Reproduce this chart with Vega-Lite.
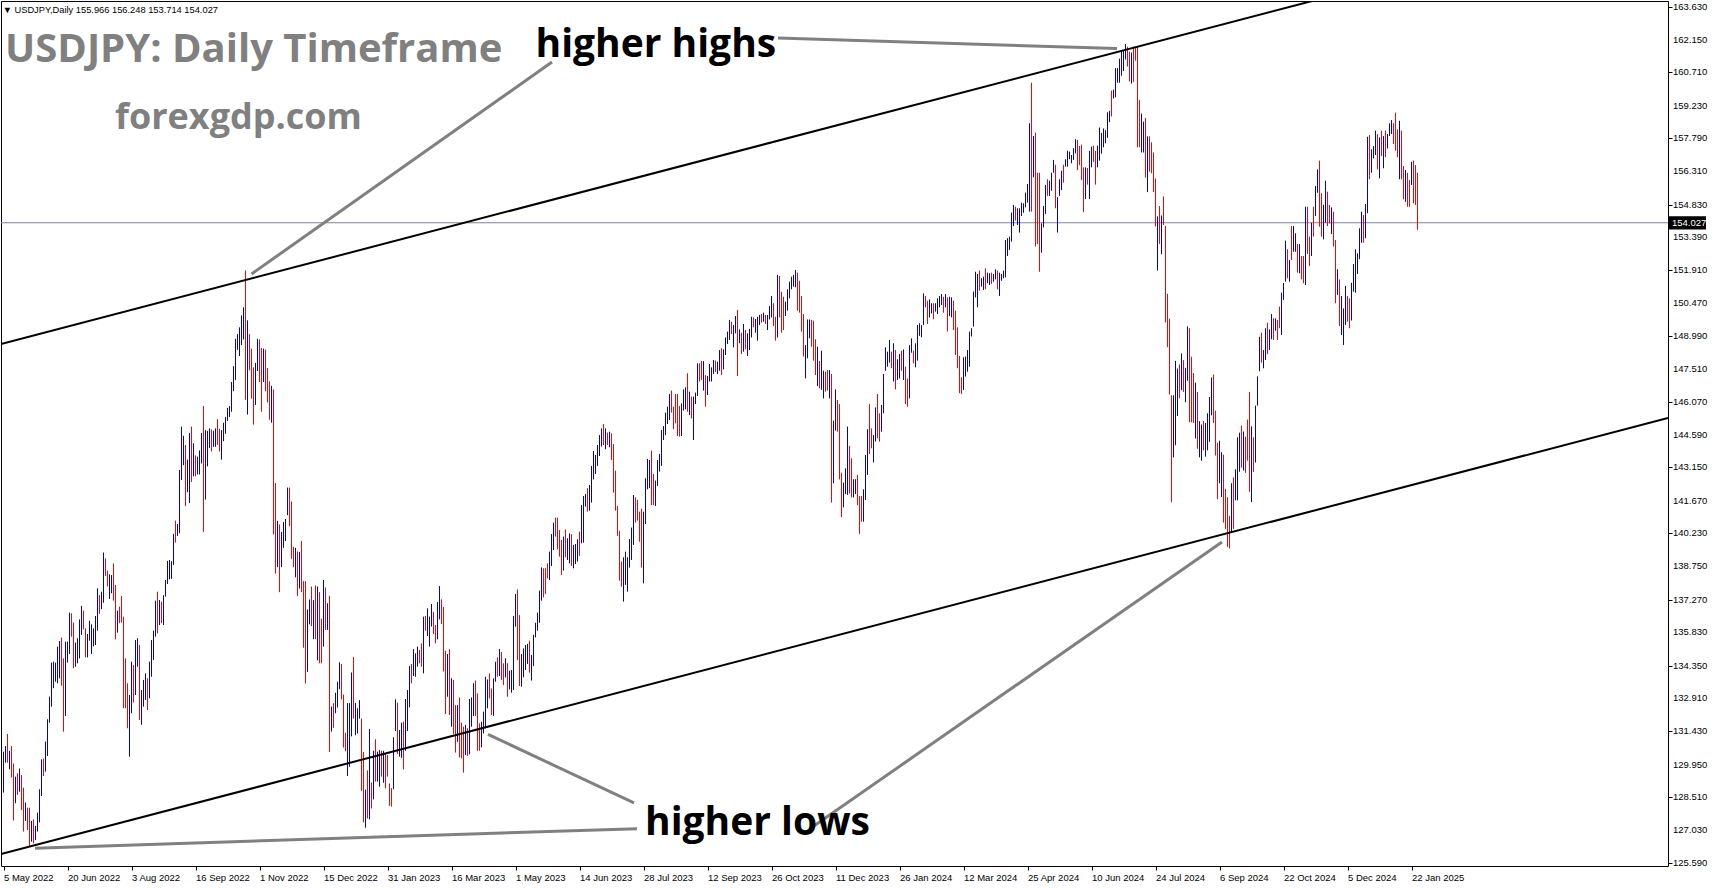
{
"$schema":"https://vega.github.io/schema/vega-lite/v6.json",
"width":1667,"height":865,"autosize":"none",
"padding":{"left":1,"top":1,"right":46,"bottom":22},
"background":"white",
"config":{"view":{"stroke":"black","strokeWidth":1},"axis":{"grid":false}},
"data":{"values":[
{"i":0,"h":130.52,"l":128.7,"dir":"up"},{"i":1,"h":130.77,"l":130.03,"dir":"up"},{"i":2,"h":131.31,"l":130.03,"dir":"dn"},{"i":3,"h":130.56,"l":129.74,"dir":"up"},{"i":4,"h":130.77,"l":129.37,"dir":"dn"},{"i":5,"h":130.0,"l":127.46,"dir":"dn"},{"i":6,"h":129.41,"l":128.23,"dir":"up"},{"i":7,"h":129.56,"l":128.6,"dir":"dn"},{"i":8,"h":129.77,"l":128.74,"dir":"up"},{"i":9,"h":129.48,"l":127.93,"dir":"dn"},
{"i":10,"h":128.92,"l":126.97,"dir":"dn"},{"i":11,"h":128.26,"l":127.44,"dir":"up"},{"i":12,"h":128.03,"l":127.04,"dir":"dn"},{"i":13,"h":128.03,"l":126.3,"dir":"dn"},{"i":14,"h":127.44,"l":126.52,"dir":"up"},{"i":15,"h":127.51,"l":126.45,"dir":"dn"},{"i":16,"h":127.22,"l":126.6,"dir":"up"},{"i":17,"h":127.81,"l":126.97,"dir":"up"},{"i":18,"h":128.85,"l":127.38,"dir":"up"},{"i":19,"h":130.18,"l":128.55,"dir":"up"},
{"i":20,"h":130.21,"l":129.44,"dir":"dn"},{"i":21,"h":130.97,"l":129.63,"dir":"up"},{"i":22,"h":131.96,"l":130.33,"dir":"up"},{"i":23,"h":132.97,"l":131.81,"dir":"up"},{"i":24,"h":134.48,"l":132.52,"dir":"up"},{"i":25,"h":134.52,"l":133.34,"dir":"up"},{"i":26,"h":134.48,"l":133.63,"dir":"up"},{"i":27,"h":135.19,"l":133.56,"dir":"up"},{"i":28,"h":135.44,"l":133.78,"dir":"up"},{"i":29,"h":135.59,"l":133.45,"dir":"dn"},
{"i":30,"h":134.67,"l":131.41,"dir":"dn"},{"i":31,"h":135.41,"l":132.11,"dir":"up"},{"i":32,"h":135.41,"l":134.48,"dir":"up"},{"i":33,"h":136.7,"l":134.86,"dir":"up"},{"i":34,"h":136.67,"l":135.63,"dir":"dn"},{"i":35,"h":136.26,"l":134.23,"dir":"dn"},{"i":36,"h":135.37,"l":134.3,"dir":"up"},{"i":37,"h":135.56,"l":134.45,"dir":"up"},{"i":38,"h":136.4,"l":134.67,"dir":"up"},{"i":39,"h":137.0,"l":135.71,"dir":"up"},
{"i":40,"h":136.79,"l":135.96,"dir":"dn"},{"i":41,"h":136.0,"l":134.71,"dir":"dn"},{"i":42,"h":135.75,"l":134.71,"dir":"up"},{"i":43,"h":136.34,"l":135.45,"dir":"up"},{"i":44,"h":136.18,"l":134.86,"dir":"up"},{"i":45,"h":136.0,"l":135.2,"dir":"up"},{"i":46,"h":136.55,"l":135.26,"dir":"up"},{"i":47,"h":137.78,"l":135.9,"dir":"up"},{"i":48,"h":137.48,"l":136.64,"dir":"dn"},{"i":49,"h":137.63,"l":136.85,"dir":"up"},
{"i":50,"h":139.37,"l":137.14,"dir":"up"},{"i":51,"h":139.11,"l":138.33,"dir":"dn"},{"i":52,"h":138.57,"l":137.86,"dir":"dn"},{"i":53,"h":138.4,"l":137.31,"dir":"up"},{"i":54,"h":138.37,"l":137.56,"dir":"up"},{"i":55,"h":138.89,"l":137.23,"dir":"dn"},{"i":56,"h":137.93,"l":135.51,"dir":"dn"},{"i":57,"h":136.79,"l":135.81,"dir":"up"},{"i":58,"h":136.97,"l":136.23,"dir":"dn"},{"i":59,"h":137.44,"l":136.26,"dir":"dn"},
{"i":60,"h":136.52,"l":132.45,"dir":"dn"},{"i":61,"h":134.67,"l":132.45,"dir":"dn"},{"i":62,"h":133.56,"l":131.56,"dir":"dn"},{"i":63,"h":133.04,"l":130.3,"dir":"up"},{"i":64,"h":134.52,"l":132.23,"dir":"up"},{"i":65,"h":134.37,"l":132.7,"dir":"dn"},{"i":66,"h":135.48,"l":133.04,"dir":"up"},{"i":67,"h":135.56,"l":134.3,"dir":"up"},{"i":68,"h":135.26,"l":131.93,"dir":"dn"},{"i":69,"h":133.26,"l":131.71,"dir":"up"},
{"i":70,"h":133.71,"l":132.52,"dir":"up"},{"i":71,"h":134.0,"l":132.82,"dir":"up"},{"i":72,"h":133.78,"l":132.37,"dir":"dn"},{"i":73,"h":134.52,"l":132.89,"dir":"up"},{"i":74,"h":135.48,"l":133.85,"dir":"up"},{"i":75,"h":135.9,"l":134.6,"dir":"up"},{"i":76,"h":137.23,"l":135.63,"dir":"up"},{"i":77,"h":137.63,"l":135.78,"dir":"dn"},{"i":78,"h":137.26,"l":136.15,"dir":"up"},{"i":79,"h":137.19,"l":136.23,"dir":"dn"},
{"i":80,"h":137.48,"l":136.15,"dir":"up"},{"i":81,"h":138.15,"l":137.41,"dir":"up"},{"i":82,"h":139.0,"l":137.97,"dir":"up"},{"i":83,"h":139.04,"l":138.18,"dir":"up"},{"i":84,"h":138.98,"l":138.2,"dir":"up"},{"i":85,"h":140.2,"l":138.82,"dir":"up"},{"i":86,"h":140.79,"l":139.81,"dir":"dn"},{"i":87,"h":140.64,"l":140.11,"dir":"up"},{"i":88,"h":143.04,"l":140.23,"dir":"up"},{"i":89,"h":144.97,"l":142.59,"dir":"up"},
{"i":90,"h":144.56,"l":143.25,"dir":"up"},{"i":91,"h":144.15,"l":141.44,"dir":"dn"},{"i":92,"h":143.5,"l":142.05,"dir":"up"},{"i":93,"h":144.68,"l":141.57,"dir":"up"},{"i":94,"h":144.97,"l":142.51,"dir":"dn"},{"i":95,"h":144.23,"l":142.76,"dir":"up"},{"i":96,"h":143.69,"l":142.76,"dir":"dn"},{"i":97,"h":143.63,"l":142.84,"dir":"up"},{"i":98,"h":143.91,"l":142.84,"dir":"up"},{"i":99,"h":144.68,"l":143.33,"dir":"up"},
{"i":100,"h":145.88,"l":140.29,"dir":"dn"},{"i":101,"h":144.81,"l":141.72,"dir":"up"},{"i":102,"h":144.78,"l":143.2,"dir":"up"},{"i":103,"h":144.89,"l":144.02,"dir":"up"},{"i":104,"h":144.84,"l":143.86,"dir":"dn"},{"i":105,"h":144.78,"l":144.07,"dir":"up"},{"i":106,"h":144.89,"l":144.07,"dir":"up"},{"i":107,"h":145.3,"l":144.15,"dir":"dn"},{"i":108,"h":144.87,"l":143.86,"dir":"dn"},{"i":109,"h":144.81,"l":143.5,"dir":"up"},
{"i":110,"h":145.14,"l":144.32,"dir":"up"},{"i":111,"h":145.39,"l":144.65,"dir":"up"},{"i":112,"h":145.8,"l":145.22,"dir":"up"},{"i":113,"h":145.88,"l":145.39,"dir":"up"},{"i":114,"h":146.95,"l":145.63,"dir":"up"},{"i":115,"h":147.65,"l":146.54,"dir":"up"},{"i":116,"h":148.87,"l":147.03,"dir":"up"},{"i":117,"h":149.08,"l":148.38,"dir":"up"},{"i":118,"h":149.38,"l":148.1,"dir":"up"},{"i":119,"h":149.91,"l":148.59,"dir":"up"},
{"i":120,"h":150.27,"l":148.84,"dir":"up"},{"i":121,"h":151.91,"l":146.16,"dir":"dn"},{"i":122,"h":149.69,"l":145.5,"dir":"up"},{"i":123,"h":149.08,"l":147.47,"dir":"dn"},{"i":124,"h":148.43,"l":146.21,"dir":"dn"},{"i":125,"h":147.6,"l":145.06,"dir":"dn"},{"i":126,"h":147.8,"l":145.93,"dir":"up"},{"i":127,"h":148.87,"l":147.44,"dir":"up"},{"i":128,"h":148.84,"l":146.95,"dir":"dn"},{"i":129,"h":148.46,"l":145.63,"dir":"dn"},
{"i":130,"h":148.43,"l":146.95,"dir":"up"},{"i":131,"h":148.39,"l":146.54,"dir":"dn"},{"i":132,"h":147.57,"l":146.04,"dir":"dn"},{"i":133,"h":146.98,"l":145.27,"dir":"dn"},{"i":134,"h":146.78,"l":145.14,"dir":"up"},{"i":135,"h":146.62,"l":140.17,"dir":"dn"},{"i":136,"h":142.46,"l":138.43,"dir":"dn"},{"i":137,"h":140.78,"l":138.72,"dir":"up"},{"i":138,"h":140.62,"l":137.61,"dir":"dn"},{"i":139,"h":140.29,"l":138.72,"dir":"up"},
{"i":140,"h":140.73,"l":139.58,"dir":"up"},{"i":141,"h":140.86,"l":139.88,"dir":"up"},{"i":142,"h":142.26,"l":141.03,"dir":"up"},{"i":143,"h":142.26,"l":140.54,"dir":"dn"},{"i":144,"h":141.64,"l":139.09,"dir":"dn"},{"i":145,"h":139.63,"l":138.72,"dir":"dn"},{"i":146,"h":139.58,"l":138.27,"dir":"up"},{"i":147,"h":139.42,"l":137.44,"dir":"dn"},{"i":148,"h":139.39,"l":137.77,"dir":"up"},{"i":149,"h":139.88,"l":137.61,"dir":"dn"},
{"i":150,"h":138.1,"l":135.14,"dir":"dn"},{"i":151,"h":138.1,"l":133.55,"dir":"dn"},{"i":152,"h":136.84,"l":134.07,"dir":"up"},{"i":153,"h":137.28,"l":136.18,"dir":"up"},{"i":154,"h":137.86,"l":136.1,"dir":"dn"},{"i":155,"h":137.25,"l":135.52,"dir":"up"},{"i":156,"h":137.91,"l":135.52,"dir":"dn"},{"i":157,"h":137.86,"l":134.58,"dir":"up"},{"i":158,"h":137.61,"l":134.45,"dir":"dn"},{"i":159,"h":136.43,"l":134.45,"dir":"dn"},
{"i":160,"h":138.15,"l":135.19,"dir":"up"},{"i":161,"h":137.82,"l":135.93,"dir":"dn"},{"i":162,"h":137.12,"l":135.93,"dir":"up"},{"i":163,"h":137.45,"l":130.51,"dir":"dn"},{"i":164,"h":132.53,"l":131.41,"dir":"up"},{"i":165,"h":132.68,"l":131.58,"dir":"dn"},{"i":166,"h":133.14,"l":132.23,"dir":"up"},{"i":167,"h":133.63,"l":132.48,"dir":"up"},{"i":168,"h":134.49,"l":133.3,"dir":"up"},{"i":169,"h":134.42,"l":132.84,"dir":"dn"},
{"i":170,"h":133.06,"l":130.7,"dir":"dn"},{"i":171,"h":131.36,"l":130.54,"dir":"dn"},{"i":172,"h":132.68,"l":129.44,"dir":"up"},{"i":173,"h":132.68,"l":129.85,"dir":"up"},{"i":174,"h":134.04,"l":131.2,"dir":"up"},{"i":175,"h":134.73,"l":131.99,"dir":"dn"},{"i":176,"h":132.68,"l":131.25,"dir":"up"},{"i":177,"h":132.45,"l":131.33,"dir":"up"},{"i":178,"h":132.81,"l":131.99,"dir":"up"},{"i":179,"h":131.99,"l":128.78,"dir":"dn"},
{"i":180,"h":130.51,"l":127.38,"dir":"dn"},{"i":181,"h":128.83,"l":127.14,"dir":"up"},{"i":182,"h":129.69,"l":127.55,"dir":"dn"},{"i":183,"h":131.53,"l":127.51,"dir":"up"},{"i":184,"h":129.15,"l":128.0,"dir":"dn"},{"i":185,"h":130.56,"l":128.4,"dir":"up"},{"i":186,"h":131.07,"l":129.19,"dir":"dn"},{"i":187,"h":130.52,"l":129.19,"dir":"up"},{"i":188,"h":130.59,"l":128.96,"dir":"up"},{"i":189,"h":130.56,"l":129.41,"dir":"dn"},
{"i":190,"h":130.56,"l":129.14,"dir":"up"},{"i":191,"h":130.42,"l":128.89,"dir":"dn"},{"i":192,"h":130.37,"l":129.41,"dir":"dn"},{"i":193,"h":129.11,"l":128.11,"dir":"dn"},{"i":194,"h":128.9,"l":128.08,"dir":"dn"},{"i":195,"h":131.16,"l":128.85,"dir":"up"},{"i":196,"h":132.85,"l":131.44,"dir":"up"},{"i":197,"h":132.7,"l":130.42,"dir":"dn"},{"i":198,"h":131.48,"l":130.3,"dir":"up"},{"i":199,"h":131.81,"l":130.25,"dir":"up"},
{"i":200,"h":131.85,"l":129.73,"dir":"dn"},{"i":201,"h":132.86,"l":130.56,"dir":"up"},{"i":202,"h":133.26,"l":131.44,"dir":"up"},{"i":203,"h":134.33,"l":132.49,"dir":"up"},{"i":204,"h":134.42,"l":133.56,"dir":"dn"},{"i":205,"h":135.08,"l":133.88,"dir":"up"},{"i":206,"h":134.89,"l":133.85,"dir":"up"},{"i":207,"h":135.19,"l":134.3,"dir":"up"},{"i":208,"h":135.04,"l":134.45,"dir":"dn"},{"i":209,"h":135.33,"l":134.3,"dir":"dn"},
{"i":210,"h":136.52,"l":134.0,"dir":"up"},{"i":211,"h":136.55,"l":135.9,"dir":"dn"},{"i":212,"h":136.89,"l":135.66,"dir":"up"},{"i":213,"h":136.52,"l":135.19,"dir":"up"},{"i":214,"h":137.08,"l":136.08,"dir":"up"},{"i":215,"h":136.74,"l":135.75,"dir":"dn"},{"i":216,"h":136.15,"l":135.33,"dir":"dn"},{"i":217,"h":137.17,"l":135.51,"dir":"up"},{"i":218,"h":137.88,"l":136.4,"dir":"up"},{"i":219,"h":137.29,"l":136.19,"dir":"dn"},
{"i":220,"h":136.95,"l":134.08,"dir":"dn"},{"i":221,"h":135.01,"l":132.19,"dir":"dn"},{"i":222,"h":134.86,"l":132.96,"dir":"up"},{"i":223,"h":135.08,"l":132.15,"dir":"dn"},{"i":224,"h":133.78,"l":131.63,"dir":"up"},{"i":225,"h":133.71,"l":131.31,"dir":"dn"},{"i":226,"h":132.59,"l":130.48,"dir":"dn"},{"i":227,"h":132.59,"l":130.96,"dir":"up"},{"i":228,"h":132.93,"l":130.27,"dir":"dn"},{"i":229,"h":131.81,"l":130.22,"dir":"dn"},
{"i":230,"h":131.63,"l":129.59,"dir":"dn"},{"i":231,"h":131.71,"l":130.37,"dir":"up"},{"i":232,"h":131.56,"l":130.33,"dir":"dn"},{"i":233,"h":132.86,"l":130.4,"dir":"up"},{"i":234,"h":132.93,"l":131.63,"dir":"up"},{"i":235,"h":133.56,"l":132.11,"dir":"up"},{"i":236,"h":133.68,"l":132.11,"dir":"dn"},{"i":237,"h":133.11,"l":130.56,"dir":"dn"},{"i":238,"h":131.78,"l":130.56,"dir":"dn"},{"i":239,"h":131.85,"l":130.71,"dir":"up"},
{"i":240,"h":132.3,"l":131.33,"dir":"up"},{"i":241,"h":133.85,"l":131.56,"dir":"up"},{"i":242,"h":133.73,"l":132.45,"dir":"up"},{"i":243,"h":134.0,"l":132.89,"dir":"dn"},{"i":244,"h":133.33,"l":132.15,"dir":"dn"},{"i":245,"h":133.78,"l":132.11,"dir":"up"},{"i":246,"h":134.52,"l":133.63,"dir":"up"},{"i":247,"h":134.71,"l":133.85,"dir":"dn"},{"i":248,"h":135.08,"l":133.88,"dir":"up"},{"i":249,"h":134.95,"l":133.71,"dir":"dn"},
{"i":250,"h":134.45,"l":133.48,"dir":"dn"},{"i":251,"h":134.67,"l":133.82,"dir":"up"},{"i":252,"h":134.45,"l":132.96,"dir":"dn"},{"i":253,"h":134.12,"l":133.29,"dir":"up"},{"i":254,"h":134.15,"l":133.14,"dir":"up"},{"i":255,"h":136.55,"l":133.26,"dir":"up"},{"i":256,"h":137.53,"l":136.08,"dir":"up"},{"i":257,"h":137.73,"l":134.59,"dir":"dn"},{"i":258,"h":136.59,"l":133.44,"dir":"dn"},{"i":259,"h":134.86,"l":133.41,"dir":"up"},
{"i":260,"h":135.11,"l":133.82,"dir":"up"},{"i":261,"h":135.26,"l":134.15,"dir":"up"},{"i":262,"h":135.31,"l":134.42,"dir":"up"},{"i":263,"h":135.45,"l":134.03,"dir":"dn"},{"i":264,"h":134.82,"l":133.68,"dir":"up"},{"i":265,"h":135.71,"l":134.33,"dir":"up"},{"i":266,"h":136.25,"l":135.6,"dir":"up"},{"i":267,"h":136.7,"l":135.9,"dir":"up"},{"i":268,"h":137.68,"l":136.25,"dir":"up"},{"i":269,"h":138.71,"l":137.23,"dir":"up"},
{"i":270,"h":138.67,"l":137.38,"dir":"dn"},{"i":271,"h":138.67,"l":137.53,"dir":"dn"},{"i":272,"h":138.89,"l":138.22,"dir":"dn"},{"i":273,"h":139.41,"l":138.15,"dir":"up"},{"i":274,"h":140.19,"l":138.77,"dir":"up"},{"i":275,"h":140.7,"l":139.48,"dir":"up"},{"i":276,"h":140.92,"l":140.08,"dir":"dn"},{"i":277,"h":140.92,"l":139.51,"dir":"dn"},{"i":278,"h":140.37,"l":139.19,"dir":"dn"},{"i":279,"h":139.93,"l":138.37,"dir":"dn"},
{"i":280,"h":140.08,"l":138.57,"dir":"up"},{"i":281,"h":140.4,"l":139.16,"dir":"dn"},{"i":282,"h":140.0,"l":139.04,"dir":"up"},{"i":283,"h":140.22,"l":138.89,"dir":"up"},{"i":284,"h":140.19,"l":138.77,"dir":"dn"},{"i":285,"h":139.71,"l":138.67,"dir":"up"},{"i":286,"h":139.75,"l":138.86,"dir":"up"},{"i":287,"h":139.96,"l":138.97,"dir":"up"},{"i":288,"h":140.3,"l":139.22,"dir":"dn"},{"i":289,"h":141.48,"l":139.78,"dir":"up"},
{"i":290,"h":141.88,"l":139.81,"dir":"up"},{"i":291,"h":141.97,"l":141.41,"dir":"up"},{"i":292,"h":142.23,"l":141.19,"dir":"dn"},{"i":293,"h":142.37,"l":141.23,"dir":"up"},{"i":294,"h":143.22,"l":141.59,"dir":"up"},{"i":295,"h":143.88,"l":142.62,"dir":"up"},{"i":296,"h":143.71,"l":142.86,"dir":"up"},{"i":297,"h":144.15,"l":143.22,"dir":"up"},{"i":298,"h":144.59,"l":143.66,"dir":"up"},{"i":299,"h":144.89,"l":144.08,"dir":"up"},
{"i":300,"h":145.08,"l":144.15,"dir":"dn"},{"i":301,"h":144.89,"l":143.96,"dir":"up"},{"i":302,"h":144.7,"l":144.15,"dir":"dn"},{"i":303,"h":144.74,"l":144.05,"dir":"up"},{"i":304,"h":144.67,"l":143.48,"dir":"dn"},{"i":305,"h":144.19,"l":142.03,"dir":"dn"},{"i":306,"h":143.01,"l":141.23,"dir":"dn"},{"i":307,"h":141.44,"l":140.11,"dir":"dn"},{"i":308,"h":140.34,"l":138.12,"dir":"dn"},{"i":309,"h":138.97,"l":137.85,"dir":"dn"},
{"i":310,"h":139.16,"l":137.19,"dir":"up"},{"i":311,"h":139.41,"l":137.93,"dir":"up"},{"i":312,"h":139.16,"l":137.63,"dir":"up"},{"i":313,"h":139.97,"l":138.7,"dir":"up"},{"i":314,"h":140.48,"l":139.04,"dir":"up"},{"i":315,"h":141.93,"l":139.71,"dir":"up"},{"i":316,"h":141.82,"l":140.7,"dir":"dn"},{"i":317,"h":141.71,"l":140.79,"dir":"dn"},{"i":318,"h":141.19,"l":139.85,"dir":"dn"},{"i":319,"h":141.32,"l":138.7,"dir":"dn"},
{"i":320,"h":141.19,"l":138.0,"dir":"up"},{"i":321,"h":142.67,"l":140.64,"dir":"up"},{"i":322,"h":143.53,"l":142.18,"dir":"up"},{"i":323,"h":143.48,"l":142.23,"dir":"up"},{"i":324,"h":143.9,"l":141.48,"dir":"dn"},{"i":325,"h":142.86,"l":141.48,"dir":"dn"},{"i":326,"h":142.57,"l":141.44,"dir":"up"},{"i":327,"h":143.48,"l":142.33,"dir":"up"},{"i":328,"h":143.75,"l":142.97,"dir":"up"},{"i":329,"h":144.82,"l":143.22,"dir":"up"},
{"i":330,"h":144.99,"l":144.37,"dir":"up"},{"i":331,"h":145.59,"l":144.59,"dir":"up"},{"i":332,"h":145.85,"l":145.08,"dir":"up"},{"i":333,"h":146.42,"l":145.26,"dir":"up"},{"i":334,"h":146.57,"l":145.59,"dir":"dn"},{"i":335,"h":145.85,"l":144.85,"dir":"dn"},{"i":336,"h":146.42,"l":145.11,"dir":"dn"},{"i":337,"h":146.42,"l":144.55,"dir":"dn"},{"i":338,"h":145.88,"l":144.52,"dir":"dn"},{"i":339,"h":146.0,"l":144.55,"dir":"up"},
{"i":340,"h":146.62,"l":145.68,"dir":"up"},{"i":341,"h":146.71,"l":145.74,"dir":"up"},{"i":342,"h":147.34,"l":145.63,"dir":"dn"},{"i":343,"h":146.52,"l":145.48,"dir":"up"},{"i":344,"h":146.3,"l":145.33,"dir":"dn"},{"i":345,"h":146.3,"l":144.37,"dir":"up"},{"i":346,"h":146.48,"l":145.97,"dir":"up"},{"i":347,"h":147.78,"l":146.33,"dir":"up"},{"i":348,"h":147.78,"l":146.97,"dir":"dn"},{"i":349,"h":147.88,"l":147.04,"dir":"dn"},
{"i":350,"h":147.88,"l":146.57,"dir":"up"},{"i":351,"h":147.26,"l":145.85,"dir":"dn"},{"i":352,"h":147.22,"l":146.37,"dir":"up"},{"i":353,"h":147.75,"l":146.97,"dir":"up"},{"i":354,"h":147.6,"l":146.97,"dir":"up"},{"i":355,"h":147.93,"l":147.31,"dir":"up"},{"i":356,"h":147.9,"l":147.4,"dir":"dn"},{"i":357,"h":147.85,"l":147.3,"dir":"up"},{"i":358,"h":148.37,"l":147.45,"dir":"up"},{"i":359,"h":148.45,"l":147.26,"dir":"dn"},
{"i":360,"h":148.4,"l":147.51,"dir":"up"},{"i":361,"h":148.93,"l":148.15,"dir":"up"},{"i":362,"h":149.19,"l":148.64,"dir":"up"},{"i":363,"h":149.71,"l":148.82,"dir":"up"},{"i":364,"h":149.63,"l":149.08,"dir":"dn"},{"i":365,"h":149.48,"l":148.49,"dir":"up"},{"i":366,"h":149.88,"l":149.11,"dir":"up"},{"i":367,"h":150.15,"l":147.22,"dir":"dn"},{"i":368,"h":149.29,"l":148.67,"dir":"up"},{"i":369,"h":149.14,"l":148.19,"dir":"dn"},
{"i":370,"h":149.53,"l":148.3,"dir":"up"},{"i":371,"h":149.26,"l":148.4,"dir":"dn"},{"i":372,"h":149.11,"l":148.11,"dir":"up"},{"i":373,"h":149.31,"l":148.37,"dir":"up"},{"i":374,"h":149.85,"l":148.93,"dir":"up"},{"i":375,"h":149.82,"l":149.38,"dir":"dn"},{"i":376,"h":149.75,"l":149.14,"dir":"up"},{"i":377,"h":149.85,"l":148.79,"dir":"up"},{"i":378,"h":149.93,"l":149.48,"dir":"up"},{"i":379,"h":149.97,"l":149.59,"dir":"dn"},
{"i":380,"h":150.03,"l":149.63,"dir":"up"},{"i":381,"h":149.93,"l":149.53,"dir":"dn"},{"i":382,"h":149.93,"l":149.26,"dir":"up"},{"i":383,"h":150.33,"l":149.73,"dir":"up"},{"i":384,"h":150.77,"l":149.82,"dir":"up"},{"i":385,"h":150.45,"l":149.44,"dir":"dn"},{"i":386,"h":149.85,"l":148.79,"dir":"dn"},{"i":387,"h":151.71,"l":148.93,"dir":"up"},{"i":388,"h":151.66,"l":149.82,"dir":"dn"},{"i":389,"h":150.96,"l":149.14,"dir":"dn"},
{"i":390,"h":150.74,"l":149.26,"dir":"dn"},{"i":391,"h":150.52,"l":149.88,"dir":"up"},{"i":392,"h":151.07,"l":150.12,"dir":"up"},{"i":393,"h":151.41,"l":150.67,"dir":"up"},{"i":394,"h":151.63,"l":151.07,"dir":"up"},{"i":395,"h":151.71,"l":151.19,"dir":"up"},{"i":396,"h":151.93,"l":151.16,"dir":"up"},{"i":397,"h":151.81,"l":150.12,"dir":"dn"},{"i":398,"h":151.45,"l":150.03,"dir":"dn"},{"i":399,"h":150.77,"l":149.19,"dir":"dn"},
{"i":400,"h":149.97,"l":148.08,"dir":"dn"},{"i":401,"h":148.59,"l":147.11,"dir":"up"},{"i":402,"h":149.73,"l":148.0,"dir":"up"},{"i":403,"h":149.73,"l":148.89,"dir":"up"},{"i":404,"h":149.71,"l":148.52,"dir":"dn"},{"i":405,"h":149.68,"l":147.9,"dir":"dn"},{"i":406,"h":148.85,"l":147.26,"dir":"dn"},{"i":407,"h":148.52,"l":146.77,"dir":"up"},{"i":408,"h":147.88,"l":146.67,"dir":"dn"},{"i":409,"h":148.34,"l":146.6,"dir":"up"},
{"i":410,"h":147.45,"l":146.22,"dir":"up"},{"i":411,"h":147.41,"l":146.52,"dir":"dn"},{"i":412,"h":147.48,"l":146.57,"dir":"dn"},{"i":413,"h":147.48,"l":146.22,"dir":"up"},{"i":414,"h":147.31,"l":141.59,"dir":"dn"},{"i":415,"h":145.23,"l":142.45,"dir":"up"},{"i":416,"h":146.62,"l":144.79,"dir":"up"},{"i":417,"h":146.15,"l":144.74,"dir":"dn"},{"i":418,"h":145.97,"l":142.62,"dir":"dn"},{"i":419,"h":142.92,"l":140.94,"dir":"dn"},
{"i":420,"h":142.48,"l":141.38,"dir":"up"},{"i":421,"h":143.11,"l":141.97,"dir":"up"},{"i":422,"h":144.97,"l":141.93,"dir":"up"},{"i":423,"h":144.11,"l":142.0,"dir":"dn"},{"i":424,"h":143.56,"l":141.82,"dir":"dn"},{"i":425,"h":142.63,"l":141.82,"dir":"up"},{"i":426,"h":142.63,"l":141.97,"dir":"up"},{"i":427,"h":142.82,"l":141.48,"dir":"dn"},{"i":428,"h":141.88,"l":140.2,"dir":"dn"},{"i":429,"h":141.88,"l":140.74,"dir":"dn"},
{"i":430,"h":142.18,"l":140.74,"dir":"up"},{"i":431,"h":143.7,"l":141.71,"dir":"up"},{"i":432,"h":144.85,"l":142.82,"dir":"up"},{"i":433,"h":145.97,"l":143.75,"dir":"dn"},{"i":434,"h":144.89,"l":144.0,"dir":"dn"},{"i":435,"h":144.59,"l":143.37,"dir":"up"},{"i":436,"h":145.82,"l":144.3,"dir":"up"},{"i":437,"h":146.42,"l":144.45,"dir":"dn"},{"i":438,"h":145.56,"l":144.3,"dir":"dn"},{"i":439,"h":145.93,"l":144.74,"dir":"up"},
{"i":440,"h":147.31,"l":145.56,"dir":"up"},{"i":441,"h":148.49,"l":147.45,"dir":"up"},{"i":442,"h":148.3,"l":147.63,"dir":"up"},{"i":443,"h":148.82,"l":147.81,"dir":"up"},{"i":444,"h":148.3,"l":147.56,"dir":"dn"},{"i":445,"h":148.67,"l":146.97,"dir":"up"},{"i":446,"h":148.37,"l":146.62,"dir":"dn"},{"i":447,"h":147.96,"l":147.04,"dir":"up"},{"i":448,"h":148.19,"l":147.11,"dir":"up"},{"i":449,"h":148.34,"l":147.45,"dir":"dn"},
{"i":450,"h":148.4,"l":147.04,"dir":"up"},{"i":451,"h":147.63,"l":145.97,"dir":"dn"},{"i":452,"h":147.11,"l":145.85,"dir":"dn"},{"i":453,"h":148.59,"l":146.22,"dir":"up"},{"i":454,"h":148.89,"l":148.25,"dir":"up"},{"i":455,"h":148.34,"l":147.78,"dir":"dn"},{"i":456,"h":148.67,"l":147.6,"dir":"up"},{"i":457,"h":149.48,"l":147.9,"dir":"up"},{"i":458,"h":149.56,"l":149.0,"dir":"up"},{"i":459,"h":149.48,"l":148.94,"dir":"up"},
{"i":460,"h":150.89,"l":149.48,"dir":"up"},{"i":461,"h":150.77,"l":150.27,"dir":"dn"},{"i":462,"h":150.56,"l":149.53,"dir":"dn"},{"i":463,"h":150.62,"l":149.82,"dir":"up"},{"i":464,"h":150.45,"l":150.0,"dir":"up"},{"i":465,"h":150.45,"l":149.74,"dir":"dn"},{"i":466,"h":150.45,"l":150.08,"dir":"up"},{"i":467,"h":150.67,"l":149.97,"dir":"up"},{"i":468,"h":150.77,"l":150.27,"dir":"up"},{"i":469,"h":150.86,"l":150.37,"dir":"up"},
{"i":470,"h":150.74,"l":150.03,"dir":"dn"},{"i":471,"h":150.86,"l":150.27,"dir":"up"},{"i":472,"h":150.71,"l":149.19,"dir":"dn"},{"i":473,"h":150.74,"l":149.88,"dir":"up"},{"i":474,"h":150.71,"l":149.82,"dir":"up"},{"i":475,"h":150.56,"l":149.26,"dir":"dn"},{"i":476,"h":150.12,"l":148.15,"dir":"dn"},{"i":477,"h":149.38,"l":147.56,"dir":"dn"},{"i":478,"h":148.11,"l":146.45,"dir":"dn"},{"i":479,"h":147.16,"l":146.42,"dir":"dn"},
{"i":480,"h":148.05,"l":146.6,"dir":"up"},{"i":481,"h":148.08,"l":147.19,"dir":"up"},{"i":482,"h":148.37,"l":147.41,"dir":"up"},{"i":483,"h":149.19,"l":147.63,"dir":"up"},{"i":484,"h":149.34,"l":148.97,"dir":"up"},{"i":485,"h":150.97,"l":149.41,"dir":"up"},{"i":486,"h":151.85,"l":150.71,"dir":"up"},{"i":487,"h":151.75,"l":150.27,"dir":"up"},{"i":488,"h":151.9,"l":151.01,"dir":"dn"},{"i":489,"h":151.56,"l":151.19,"dir":"up"},
{"i":490,"h":151.63,"l":151.04,"dir":"up"},{"i":491,"h":152.0,"l":151.07,"dir":"dn"},{"i":492,"h":151.81,"l":151.34,"dir":"up"},{"i":493,"h":151.78,"l":151.26,"dir":"up"},{"i":494,"h":151.81,"l":151.31,"dir":"dn"},{"i":495,"h":151.75,"l":151.41,"dir":"up"},{"i":496,"h":151.96,"l":151.51,"dir":"up"},{"i":497,"h":151.9,"l":151.07,"dir":"dn"},{"i":498,"h":151.81,"l":150.77,"dir":"up"},{"i":499,"h":151.75,"l":151.45,"dir":"up"},
{"i":500,"h":151.9,"l":151.56,"dir":"up"},{"i":501,"h":153.26,"l":151.6,"dir":"up"},{"i":502,"h":153.34,"l":152.55,"dir":"up"},{"i":503,"h":153.41,"l":152.82,"dir":"up"},{"i":504,"h":154.48,"l":153.19,"dir":"up"},{"i":505,"h":154.82,"l":153.88,"dir":"up"},{"i":506,"h":154.74,"l":154.12,"dir":"dn"},{"i":507,"h":154.67,"l":153.93,"dir":"up"},{"i":508,"h":154.67,"l":153.59,"dir":"up"},{"i":509,"h":154.92,"l":154.33,"dir":"up"},
{"i":510,"h":154.89,"l":154.47,"dir":"up"},{"i":511,"h":155.37,"l":154.71,"dir":"up"},{"i":512,"h":155.75,"l":154.92,"dir":"up"},{"i":513,"h":158.45,"l":154.52,"dir":"up"},{"i":514,"h":160.25,"l":154.52,"dir":"dn"},{"i":515,"h":157.88,"l":156.05,"dir":"up"},{"i":516,"h":158.03,"l":152.97,"dir":"dn"},{"i":517,"h":156.25,"l":153.08,"dir":"dn"},{"i":518,"h":156.25,"l":151.85,"dir":"dn"},{"i":519,"h":154.0,"l":152.7,"dir":"up"},
{"i":520,"h":154.77,"l":153.82,"dir":"up"},{"i":521,"h":155.71,"l":154.42,"dir":"up"},{"i":522,"h":155.96,"l":155.22,"dir":"dn"},{"i":523,"h":155.9,"l":155.22,"dir":"up"},{"i":524,"h":156.25,"l":155.45,"dir":"up"},{"i":525,"h":156.82,"l":156.25,"dir":"up"},{"i":526,"h":156.6,"l":154.67,"dir":"dn"},{"i":527,"h":155.16,"l":153.59,"dir":"up"},{"i":528,"h":155.96,"l":155.22,"dir":"up"},{"i":529,"h":156.34,"l":155.48,"dir":"up"},
{"i":530,"h":156.6,"l":155.81,"dir":"dn"},{"i":531,"h":156.85,"l":156.52,"dir":"up"},{"i":532,"h":157.23,"l":156.52,"dir":"up"},{"i":533,"h":157.19,"l":156.85,"dir":"up"},{"i":534,"h":157.04,"l":156.67,"dir":"up"},{"i":535,"h":157.34,"l":156.82,"dir":"up"},{"i":536,"h":157.74,"l":157.11,"dir":"up"},{"i":537,"h":157.71,"l":156.37,"dir":"dn"},{"i":538,"h":157.44,"l":156.59,"dir":"dn"},{"i":539,"h":157.5,"l":155.92,"dir":"dn"},
{"i":540,"h":156.49,"l":154.5,"dir":"dn"},{"i":541,"h":156.49,"l":155.08,"dir":"up"},{"i":542,"h":156.46,"l":155.72,"dir":"dn"},{"i":543,"h":157.22,"l":155.08,"dir":"up"},{"i":544,"h":157.41,"l":156.49,"dir":"up"},{"i":545,"h":157.45,"l":156.73,"dir":"dn"},{"i":546,"h":157.22,"l":155.72,"dir":"dn"},{"i":547,"h":157.45,"l":156.49,"dir":"up"},{"i":548,"h":158.26,"l":156.79,"dir":"up"},{"i":549,"h":158.02,"l":157.1,"dir":"up"},
{"i":550,"h":158.22,"l":157.38,"dir":"up"},{"i":551,"h":158.14,"l":157.56,"dir":"up"},{"i":552,"h":158.94,"l":157.8,"dir":"up"},{"i":553,"h":159.0,"l":158.5,"dir":"up"},{"i":554,"h":159.9,"l":158.75,"dir":"dn"},{"i":555,"h":159.95,"l":159.55,"dir":"up"},{"i":556,"h":160.9,"l":159.6,"dir":"up"},{"i":557,"h":160.9,"l":160.25,"dir":"up"},{"i":558,"h":161.32,"l":160.25,"dir":"up"},{"i":559,"h":161.69,"l":160.56,"dir":"up"},
{"i":560,"h":161.66,"l":160.77,"dir":"up"},{"i":561,"h":161.97,"l":161.28,"dir":"up"},{"i":562,"h":161.85,"l":160.97,"dir":"dn"},{"i":563,"h":161.63,"l":160.31,"dir":"dn"},{"i":564,"h":161.59,"l":160.21,"dir":"up"},{"i":565,"h":161.85,"l":160.29,"dir":"dn"},{"i":566,"h":161.85,"l":161.23,"dir":"dn"},{"i":567,"h":161.85,"l":157.38,"dir":"dn"},{"i":568,"h":159.49,"l":157.38,"dir":"dn"},{"i":569,"h":158.88,"l":157.15,"dir":"up"},
{"i":570,"h":158.52,"l":157.15,"dir":"up"},{"i":571,"h":158.68,"l":156.03,"dir":"dn"},{"i":572,"h":157.87,"l":155.39,"dir":"up"},{"i":573,"h":157.87,"l":156.3,"dir":"dn"},{"i":574,"h":157.6,"l":156.23,"dir":"dn"},{"i":575,"h":157.15,"l":155.39,"dir":"dn"},{"i":576,"h":156.0,"l":153.86,"dir":"dn"},{"i":577,"h":154.31,"l":151.9,"dir":"up"},{"i":578,"h":154.77,"l":153.09,"dir":"dn"},{"i":579,"h":154.35,"l":152.63,"dir":"up"},
{"i":580,"h":155.2,"l":153.93,"dir":"dn"},{"i":581,"h":153.89,"l":149.6,"dir":"dn"},{"i":582,"h":150.87,"l":148.5,"dir":"dn"},{"i":583,"h":149.76,"l":146.39,"dir":"dn"},{"i":584,"h":146.36,"l":141.61,"dir":"dn"},{"i":585,"h":146.36,"l":143.6,"dir":"up"},{"i":586,"h":147.89,"l":144.14,"dir":"up"},{"i":587,"h":147.55,"l":145.44,"dir":"up"},{"i":588,"h":147.73,"l":146.23,"dir":"dn"},{"i":589,"h":148.22,"l":146.59,"dir":"up"},
{"i":590,"h":147.92,"l":146.51,"dir":"dn"},{"i":591,"h":147.58,"l":146.05,"dir":"up"},{"i":592,"h":149.42,"l":147.0,"dir":"up"},{"i":593,"h":149.34,"l":145.16,"dir":"dn"},{"i":594,"h":148.07,"l":145.16,"dir":"dn"},{"i":595,"h":147.35,"l":145.13,"dir":"dn"},{"i":596,"h":146.92,"l":144.44,"dir":"up"},{"i":597,"h":146.51,"l":143.98,"dir":"dn"},{"i":598,"h":145.21,"l":143.6,"dir":"up"},{"i":599,"h":145.06,"l":143.45,"dir":"up"},
{"i":600,"h":145.21,"l":143.91,"dir":"dn"},{"i":601,"h":145.13,"l":143.63,"dir":"up"},{"i":602,"h":145.56,"l":143.91,"dir":"up"},{"i":603,"h":146.28,"l":144.29,"dir":"up"},{"i":604,"h":147.15,"l":145.47,"dir":"up"},{"i":605,"h":147.28,"l":145.13,"dir":"dn"},{"i":606,"h":145.67,"l":143.68,"dir":"dn"},{"i":607,"h":144.25,"l":141.74,"dir":"dn"},{"i":608,"h":144.34,"l":142.45,"dir":"up"},{"i":609,"h":143.83,"l":141.84,"dir":"up"},
{"i":610,"h":143.72,"l":140.7,"dir":"dn"},{"i":611,"h":142.2,"l":140.42,"dir":"dn"},{"i":612,"h":141.83,"l":139.62,"dir":"dn"},{"i":613,"h":141.0,"l":139.55,"dir":"dn"},{"i":614,"h":142.45,"l":140.24,"dir":"up"},{"i":615,"h":142.71,"l":140.42,"dir":"dn"},{"i":616,"h":143.07,"l":141.69,"dir":"up"},{"i":617,"h":144.49,"l":141.69,"dir":"up"},{"i":618,"h":144.7,"l":142.96,"dir":"up"},{"i":619,"h":145.01,"l":143.14,"dir":"dn"},
{"i":620,"h":144.75,"l":143.02,"dir":"up"},{"i":621,"h":144.52,"l":142.91,"dir":"dn"},{"i":622,"h":145.28,"l":143.45,"dir":"dn"},{"i":623,"h":146.51,"l":142.07,"dir":"dn"},{"i":624,"h":144.98,"l":141.61,"dir":"up"},{"i":625,"h":144.49,"l":142.96,"dir":"dn"},{"i":626,"h":145.9,"l":143.37,"dir":"up"},{"i":627,"h":147.2,"l":145.9,"dir":"up"},{"i":628,"h":148.96,"l":147.43,"dir":"up"},{"i":629,"h":149.14,"l":147.81,"dir":"dn"},
{"i":630,"h":148.37,"l":147.56,"dir":"up"},{"i":631,"h":149.34,"l":147.93,"dir":"up"},{"i":632,"h":149.59,"l":148.19,"dir":"dn"},{"i":633,"h":149.29,"l":148.37,"dir":"up"},{"i":634,"h":149.97,"l":148.85,"dir":"up"},{"i":635,"h":149.78,"l":148.82,"dir":"dn"},{"i":636,"h":149.78,"l":149.23,"dir":"up"},{"i":637,"h":149.71,"l":148.82,"dir":"dn"},{"i":638,"h":150.3,"l":149.34,"dir":"dn"},{"i":639,"h":150.92,"l":149.04,"dir":"up"},
{"i":640,"h":151.35,"l":150.6,"dir":"up"},{"i":641,"h":153.23,"l":151.41,"dir":"up"},{"i":642,"h":152.85,"l":151.56,"dir":"dn"},{"i":643,"h":152.37,"l":151.41,"dir":"up"},{"i":644,"h":153.88,"l":152.37,"dir":"dn"},{"i":645,"h":153.88,"l":152.74,"dir":"up"},{"i":646,"h":153.56,"l":152.74,"dir":"up"},{"i":647,"h":153.08,"l":151.81,"dir":"dn"},{"i":648,"h":153.08,"l":151.78,"dir":"up"},{"i":649,"h":152.55,"l":151.51,"dir":"dn"},
{"i":650,"h":152.55,"l":151.34,"dir":"dn"},{"i":651,"h":154.74,"l":151.26,"dir":"up"},{"i":652,"h":154.74,"l":152.64,"dir":"dn"},{"i":653,"h":153.41,"l":152.11,"dir":"dn"},{"i":654,"h":154.03,"l":152.55,"dir":"up"},{"i":655,"h":154.74,"l":153.41,"dir":"dn"},{"i":656,"h":155.66,"l":154.33,"dir":"up"},{"i":657,"h":156.4,"l":155.36,"dir":"up"},{"i":658,"h":156.79,"l":153.85,"dir":"dn"},{"i":659,"h":155.34,"l":153.41,"dir":"dn"},
{"i":660,"h":154.82,"l":153.29,"dir":"up"},{"i":661,"h":155.9,"l":154.03,"dir":"up"},{"i":662,"h":155.41,"l":153.88,"dir":"dn"},{"i":663,"h":154.82,"l":154.0,"dir":"dn"},{"i":664,"h":154.71,"l":153.53,"dir":"up"},{"i":665,"h":154.52,"l":152.97,"dir":"dn"},{"i":666,"h":153.26,"l":150.45,"dir":"dn"},{"i":667,"h":151.96,"l":150.82,"dir":"up"},{"i":668,"h":151.51,"l":149.44,"dir":"dn"},{"i":669,"h":150.77,"l":149.04,"dir":"up"},
{"i":670,"h":150.22,"l":148.59,"dir":"up"},{"i":671,"h":151.22,"l":149.48,"dir":"up"},{"i":672,"h":150.77,"l":149.63,"dir":"dn"},{"i":673,"h":150.67,"l":149.34,"dir":"dn"},{"i":674,"h":151.36,"l":149.68,"dir":"up"},{"i":675,"h":152.19,"l":150.96,"dir":"up"},{"i":676,"h":152.85,"l":150.92,"dir":"up"},{"i":677,"h":152.67,"l":151.75,"dir":"up"},{"i":678,"h":153.78,"l":152.41,"dir":"up"},{"i":679,"h":154.52,"l":153.14,"dir":"up"},
{"i":680,"h":154.37,"l":153.14,"dir":"dn"},{"i":681,"h":154.86,"l":153.34,"dir":"up"},{"i":682,"h":157.85,"l":154.45,"dir":"up"},{"i":683,"h":157.93,"l":155.96,"dir":"dn"},{"i":684,"h":157.29,"l":156.25,"dir":"up"},{"i":685,"h":157.44,"l":156.89,"dir":"up"},{"i":686,"h":158.12,"l":157.04,"dir":"up"},{"i":687,"h":157.97,"l":156.4,"dir":"dn"},{"i":688,"h":157.82,"l":156.0,"dir":"up"},{"i":689,"h":158.12,"l":156.99,"dir":"dn"},
{"i":690,"h":157.88,"l":156.45,"dir":"up"},{"i":691,"h":158.12,"l":156.94,"dir":"dn"},{"i":692,"h":157.97,"l":157.33,"dir":"up"},{"i":693,"h":158.45,"l":157.88,"dir":"up"},{"i":694,"h":158.59,"l":157.97,"dir":"up"},{"i":695,"h":158.45,"l":157.53,"dir":"dn"},{"i":696,"h":158.92,"l":157.23,"dir":"dn"},{"i":697,"h":158.18,"l":156.94,"dir":"dn"},{"i":698,"h":158.56,"l":155.96,"dir":"up"},{"i":699,"h":158.12,"l":155.96,"dir":"dn"},
{"i":700,"h":156.55,"l":155.07,"dir":"dn"},{"i":701,"h":156.37,"l":154.96,"dir":"up"},{"i":702,"h":156.25,"l":154.74,"dir":"dn"},{"i":703,"h":155.93,"l":154.74,"dir":"dn"},{"i":704,"h":156.74,"l":155.71,"dir":"up"},{"i":705,"h":156.79,"l":154.89,"dir":"dn"},{"i":706,"h":156.59,"l":154.82,"dir":"dn"},{"i":707,"h":156.248,"l":153.714,"dir":"dn"}
]},
"layer":[
{"data":{"values":[{}]},"mark":{"type":"rule","color":"#778899","strokeWidth":1},"encoding":{"y":{"datum":154.027,"type":"quantitative"}}},
{"mark":{"type":"rule","strokeWidth":1},
 "encoding":{
  "x":{"field":"i","type":"quantitative","scale":{"domain":[-1.25,832.25],"nice":false,"zero":false},
   "axis":{"orient":"bottom","title":null,"values":[0,32,64,96,128,160,192,224,256,288,320,352,384,416,448,480,512,544,576,608,640,672,704],
    "labelExpr":"['5 May 2022','20 Jun 2022','3 Aug 2022','16 Sep 2022','1 Nov 2022','15 Dec 2022','31 Jan 2023','16 Mar 2023','1 May 2023','14 Jun 2023','28 Jul 2023','12 Sep 2023','26 Oct 2023','11 Dec 2023','26 Jan 2024','12 Mar 2024','25 Apr 2024','10 Jun 2024','24 Jul 2024','6 Sep 2024','22 Oct 2024','5 Dec 2024','22 Jan 2025'][round(datum.value/32)]",
    "domain":false,"tickSize":4,"tickColor":"black","labelAlign":"left","labelBaseline":"top","labelPadding":2,"labelFont":"Liberation Sans","labelFontSize":9.5,"labelColor":"black","labelOverlap":false,"labelFlush":false,"labelBound":false,"grid":false}},
  "y":{"field":"h","type":"quantitative","scale":{"domain":[125.439,163.883],"nice":false,"zero":false},
   "axis":{"orient":"right","title":null,"values":[125.59,127.03,128.51,129.95,131.43,132.91,134.35,135.83,137.27,138.75,140.23,141.67,143.15,144.59,146.07,147.51,148.99,150.47,151.91,153.39,154.83,156.31,157.79,159.23,160.71,162.15,163.63],
    "labels":false,"domain":false,"tickSize":4,"tickColor":"black","grid":false}},
  "y2":{"field":"l"},
  "color":{"field":"dir","type":"nominal","scale":{"domain":["up","dn"],"range":["#0000D0","#FF0000"]},"legend":null}}},
{"data":{"values":[{"v":125.59},{"v":127.03},{"v":128.51},{"v":129.95},{"v":131.43},{"v":132.91},{"v":134.35},{"v":135.83},{"v":137.27},{"v":138.75},{"v":140.23},{"v":141.67},{"v":143.15},{"v":144.59},{"v":146.07},{"v":147.51},{"v":148.99},{"v":150.47},{"v":151.91},{"v":153.39},{"v":154.83},{"v":156.31},{"v":157.79},{"v":159.23},{"v":160.71},{"v":162.15},{"v":163.63}]},
 "mark":{"type":"text","font":"Liberation Sans","fontSize":9.5,"color":"black","align":"left","baseline":"middle","clip":false},
 "encoding":{"x":{"datum":834.75,"type":"quantitative"},"y":{"field":"v","type":"quantitative"},"text":{"field":"v","type":"quantitative","format":".3f"}}},
{"data":{"values":[{}]},"mark":{"type":"rule","color":"black","strokeWidth":2,"clip":true},"encoding":{"x":{"datum":-1.25,"type":"quantitative"},"y":{"datum":148.64,"type":"quantitative"},"x2":{"datum":680},"y2":{"datum":164.48}}},
{"data":{"values":[{}]},"mark":{"type":"rule","color":"black","strokeWidth":2,"clip":true},"encoding":{"x":{"datum":-1.25,"type":"quantitative"},"y":{"datum":125.97,"type":"quantitative"},"x2":{"datum":832.25},"y2":{"datum":145.35}}},
{"data":{"values":[{}]},"mark":{"type":"rule","color":"#808080","strokeWidth":3},"encoding":{"x":{"datum":124,"type":"quantitative"},"y":{"datum":151.75,"type":"quantitative"},"x2":{"datum":274.25},"y2":{"datum":161.17}}},
{"data":{"values":[{}]},"mark":{"type":"rule","color":"#808080","strokeWidth":3},"encoding":{"x":{"datum":387.25,"type":"quantitative"},"y":{"datum":162.24,"type":"quantitative"},"x2":{"datum":556.75},"y2":{"datum":161.77}}},
{"data":{"values":[{}]},"mark":{"type":"rule","color":"#808080","strokeWidth":3},"encoding":{"x":{"datum":15.75,"type":"quantitative"},"y":{"datum":126.23,"type":"quantitative"},"x2":{"datum":316.75},"y2":{"datum":127.1}}},
{"data":{"values":[{}]},"mark":{"type":"rule","color":"#808080","strokeWidth":3},"encoding":{"x":{"datum":242.25,"type":"quantitative"},"y":{"datum":131.29,"type":"quantitative"},"x2":{"datum":315.25},"y2":{"datum":128.24}}},
{"data":{"values":[{}]},"mark":{"type":"rule","color":"#808080","strokeWidth":3},"encoding":{"x":{"datum":403.75,"type":"quantitative"},"y":{"datum":127.13,"type":"quantitative"},"x2":{"datum":609.25},"y2":{"datum":139.84}}},
{"data":{"values":[{}]},"mark":{"type":"text","text":"USDJPY: Daily Timeframe","font":"Open Sans","fontSize":40,"fontWeight":"bold","color":"#808080","align":"left","baseline":"alphabetic"},"encoding":{"x":{"datum":0.75,"type":"quantitative"},"y":{"datum":161.17,"type":"quantitative"}}},
{"data":{"values":[{}]},"mark":{"type":"text","text":"forexgdp.com","font":"Open Sans","fontSize":36,"fontWeight":"bold","color":"#808080","align":"left","baseline":"alphabetic"},"encoding":{"x":{"datum":55.75,"type":"quantitative"},"y":{"datum":158.2,"type":"quantitative"}}},
{"data":{"values":[{}]},"mark":{"type":"text","text":"higher highs","font":"Open Sans","fontSize":39,"fontWeight":"bold","color":"black","align":"left","baseline":"alphabetic"},"encoding":{"x":{"datum":266,"type":"quantitative"},"y":{"datum":161.4,"type":"quantitative"}}},
{"data":{"values":[{}]},"mark":{"type":"text","text":"higher lows","font":"Open Sans","fontSize":39,"fontWeight":"bold","color":"black","align":"left","baseline":"alphabetic"},"encoding":{"x":{"datum":320.75,"type":"quantitative"},"y":{"datum":126.81,"type":"quantitative"}}},
{"data":{"values":[{}]},"mark":{"type":"text","text":"▼ USDJPY,Daily  155.966 156.248 153.714 154.027","font":"Liberation Sans","fontSize":9.3,"color":"black","align":"left","baseline":"middle"},"encoding":{"x":{"datum":-0.4,"type":"quantitative"},"y":{"datum":163.48,"type":"quantitative"}}},
{"data":{"values":[{}]},"mark":{"type":"rect","color":"black","clip":false},"encoding":{"x":{"datum":832.25,"type":"quantitative"},"x2":{"datum":851.25},"y":{"datum":154.32,"type":"quantitative"},"y2":{"datum":153.73}}},
{"data":{"values":[{}]},"mark":{"type":"text","text":"154.027","font":"Liberation Sans","fontSize":9.5,"color":"white","align":"left","baseline":"middle","clip":false},"encoding":{"x":{"datum":834.25,"type":"quantitative"},"y":{"datum":154.027,"type":"quantitative"}}}
]
}
